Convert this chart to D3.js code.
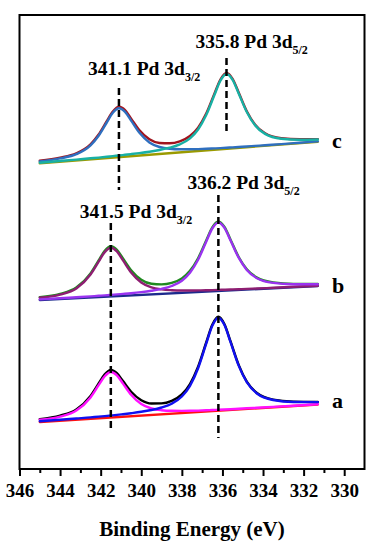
<!DOCTYPE html>
<html>
<head>
<meta charset="utf-8">
<script src="https://cdn.jsdelivr.net/npm/d3@7"></script>
<style>
    html, body { margin: 0; padding: 0; background: #fff; }
    svg { display: block; }
    svg text { font-family: "Liberation Serif", "DejaVu Serif", serif; font-weight: bold; }
</style>
</head>
<body>
<div id="chart"></div>
<script>
// XPS Pd 3d spectra, intensity in arbitrary units

// binding energy grids (eV)
const energyAB = [345, 344, 343.2, 342.5, 342.1, 341.8, 341.5, 341.2, 340.9, 340.5, 340, 339.5, 339, 338.5,
    338, 337.6, 337.2, 336.8, 336.5, 336.2, 335.9, 335.6, 335.2, 334.8, 334.3, 333.5, 332.5, 331.3];
const energyC = [345, 344, 343.2, 342.5, 342.1, 341.7, 341.4, 341.1, 340.8, 340.5, 340.1, 339.6, 339.1, 338.6,
    338.1, 337.6, 337.2, 336.8, 336.4, 336.1, 335.8, 335.5, 335.2, 334.8, 334.4, 333.9, 333.1, 332.2, 331.3];
const energyBaseline = [345, 331.3];

// sample a
const aEnvelope = [49.9, 53.4, 59.5, 73.1, 85.5, 94.6, 99.0, 95.8, 87.9, 77.2, 68.8, 65.5, 65.6, 68.2,
    74.6, 85.0, 102.3, 126.5, 144.3, 152.3, 144.8, 127.6, 104.1, 87.4, 76.0, 69.4, 67.4, 67.1];
const aPd32 = [49.2, 52.4, 58.4, 71.6, 83.8, 92.8, 97.0, 93.6, 85.4, 74.2, 64.9, 60.5, 58.8, 58.2,
    58.1, 58.2, 58.4, 58.7, 59.0, 59.2, 59.5, 59.8, 60.2, 60.7, 61.2, 62.1, 63.3, 64.8];
const aPd52 = [47.8, 49.2, 50.5, 51.6, 52.4, 52.9, 53.5, 54.1, 54.8, 55.8, 57.2, 59.0, 61.5, 65.3,
    72.5, 83.2, 100.8, 125.3, 143.2, 151.3, 144.0, 126.8, 103.4, 86.8, 75.5, 69.0, 67.0, 66.9];
const aBaseline = [47.0, 64.5];

// sample b
const bEnvelope = [171.9, 175.1, 181.4, 195.6, 208.6, 218.2, 222.8, 219.2, 210.5, 198.8, 189.3, 185.2, 184.6, 186.1,
    190.6, 198.2, 210.8, 228.6, 241.7, 247.6, 242.0, 229.3, 212.0, 199.8, 191.4, 186.6, 185.1, 185.0];
const bPd32 = [171.3, 174.4, 180.5, 194.5, 207.4, 216.9, 221.3, 217.5, 208.6, 196.5, 186.5, 181.6, 179.6, 178.8,
    178.5, 178.5, 178.6, 178.7, 178.9, 179.1, 179.3, 179.5, 179.8, 180.1, 180.5, 181.2, 182.2, 183.3];
const bPd52 = [169.6, 170.7, 171.7, 172.6, 173.2, 173.6, 174.1, 174.6, 175.1, 175.8, 176.9, 178.3, 180.1, 183.0,
    188.3, 196.2, 209.2, 227.3, 240.5, 246.5, 241.1, 228.5, 211.3, 199.1, 190.8, 186.1, 184.8, 184.7];
const bBaseline = [169.0, 183.0];

// sample c
const cEnvelope = [308.2, 311.3, 315.7, 324.7, 334.5, 347.8, 357.6, 362.3, 358.9, 350.4, 338.9, 329.7, 326.0, 325.7,
    327.7, 333.0, 341.4, 355.5, 375.1, 389.5, 396.1, 390.2, 376.5, 357.8, 344.6, 335.7, 330.8, 329.7, 329.9];
const cPd32 = [307.6, 310.6, 314.8, 323.7, 333.3, 346.5, 356.2, 360.7, 357.1, 348.4, 336.4, 326.6, 322.0, 320.2,
    319.7, 319.7, 319.9, 320.2, 320.6, 320.9, 321.3, 321.6, 322.0, 322.5, 323.1, 323.8, 324.9, 326.3, 327.6];
const cPd52 = [306.3, 308.0, 309.4, 310.7, 311.4, 312.2, 312.9, 313.5, 314.2, 314.9, 315.9, 317.3, 319.0, 321.3,
    324.6, 330.6, 339.5, 353.9, 373.7, 388.3, 395.0, 389.2, 375.6, 357.0, 343.9, 335.1, 330.3, 329.3, 329.5];
const cBaseline = [305.7, 327.3];

// peak positions and labels
const peakEnergy = [341.1, 335.8, 341.5, 336.2];
const peakLabel = ["341.1 Pd 3d", "335.8 Pd 3d", "341.5 Pd 3d", "336.2 Pd 3d"];
const peakSub = ["3/2", "5/2", "3/2", "5/2"];
const sampleNames = ["c", "b", "a"];

const majorTicks = [346, 344, 342, 340, 338, 336, 334, 332, 330];
const minorTicks = [345, 343, 341, 339, 337, 335, 333, 331];

// ---- layout ----
const width = 376;
const height = 550;
const plot = { left: 19.5, right: 364.5, top: 15, bottom: 469 };

// dashed marker extents and label heights, in intensity units
const dashTop = [381, 411, 246, 274];
const dashBottom = [279, 334, 39, 31];
const labelLevel = [394, 421, 251, 280];
const sampleLevel = [321, 176, 61];

const x = d3.scaleLinear().domain([346, 329]).range([plot.left, plot.right]);
const y = d3.scaleLinear().domain([0, 454]).range([plot.bottom, plot.top]);

const line = d3.line()
    .x(d => x(d[0]))
    .y(d => y(d[1]))
    .curve(d3.curveMonotoneX);

const zip = (e, v) => e.map((d, i) => [d, v[i]]);

// drawn in this order, back to front
const curves = [
    { energy: energyBaseline, values: cBaseline, color: "#9a9a00" },
    { energy: energyC, values: cEnvelope, color: "#a0141e" },
    { energy: energyC, values: cPd32, color: "#2f6fbf" },
    { energy: energyC, values: cPd52, color: "#18b0a4" },
    { energy: energyBaseline, values: bBaseline, color: "#1c2a8c" },
    { energy: energyAB, values: bEnvelope, color: "#1f8a1f" },
    { energy: energyAB, values: bPd32, color: "#8e1e72" },
    { energy: energyAB, values: bPd52, color: "#9a33f0" },
    { energy: energyBaseline, values: aBaseline, color: "#ff1010" },
    { energy: energyAB, values: aEnvelope, color: "#000000" },
    { energy: energyAB, values: aPd32, color: "#ff10ff" },
    { energy: energyAB, values: aPd52, color: "#1010f0" }
];

const svg = d3.select("#chart")
    .append("svg")
    .attr("width", width)
    .attr("height", height);

// spectra
svg.append("g")
    .selectAll("path")
    .data(curves)
    .join("path")
    .attr("d", d => line(zip(d.energy, d.values)))
    .attr("fill", "none")
    .attr("stroke", d => d.color)
    .attr("stroke-width", 2.4)
    .attr("stroke-linecap", "round");

// dashed peak markers
svg.append("g")
    .selectAll("line")
    .data(peakEnergy)
    .join("line")
    .attr("x1", d => x(d))
    .attr("x2", d => x(d))
    .attr("y1", (d, i) => y(dashTop[i]))
    .attr("y2", (d, i) => y(dashBottom[i]))
    .attr("stroke", "#000")
    .attr("stroke-width", 2.5)
    .attr("stroke-dasharray", "7,4");

// peak labels with subscripts
const labels = svg.append("g")
    .selectAll("text")
    .data(peakEnergy)
    .join("text")
    .attr("x", d => x(d) - 31)
    .attr("y", (d, i) => y(labelLevel[i]))
    .attr("font-size", 19.5)
    .attr("fill", "#000");
labels.append("tspan").text((d, i) => peakLabel[i]);
labels.append("tspan")
    .attr("font-size", 12)
    .attr("dy", 6)
    .text((d, i) => peakSub[i]);

// sample letters
svg.append("g")
    .selectAll("text")
    .data(sampleNames)
    .join("text")
    .attr("x", x(330.6))
    .attr("y", (d, i) => y(sampleLevel[i]))
    .attr("font-size", 22)
    .attr("fill", "#000")
    .text(d => d);

// x axis, major and minor ticks
const axisMajor = svg.append("g")
    .attr("transform", `translate(0,${plot.bottom})`)
    .call(d3.axisBottom(x).tickValues(majorTicks).tickSize(7).tickPadding(8).tickFormat(d3.format("d")));
axisMajor.select(".domain").remove();
axisMajor.selectAll("line").attr("stroke", "#000").attr("stroke-width", 2);
axisMajor.selectAll("text")
    .attr("fill", "#000")
    .attr("font-family", null)
    .attr("font-size", null)
    .style("font-size", "19px");

const axisMinor = svg.append("g")
    .attr("transform", `translate(0,${plot.bottom})`)
    .call(d3.axisBottom(x).tickValues(minorTicks).tickSize(4).tickFormat(""));
axisMinor.select(".domain").remove();
axisMinor.selectAll("line").attr("stroke", "#000").attr("stroke-width", 2);

// frame
svg.append("rect")
    .attr("x", plot.left)
    .attr("y", plot.top)
    .attr("width", plot.right - plot.left)
    .attr("height", plot.bottom - plot.top)
    .attr("fill", "none")
    .attr("stroke", "#000")
    .attr("stroke-width", 2);

// axis title
svg.append("text")
    .attr("x", (plot.left + plot.right) / 2)
    .attr("y", 536)
    .attr("text-anchor", "middle")
    .attr("font-size", 21)
    .attr("fill", "#000")
    .text("Binding Energy (eV)");
</script>
</body>
</html>
